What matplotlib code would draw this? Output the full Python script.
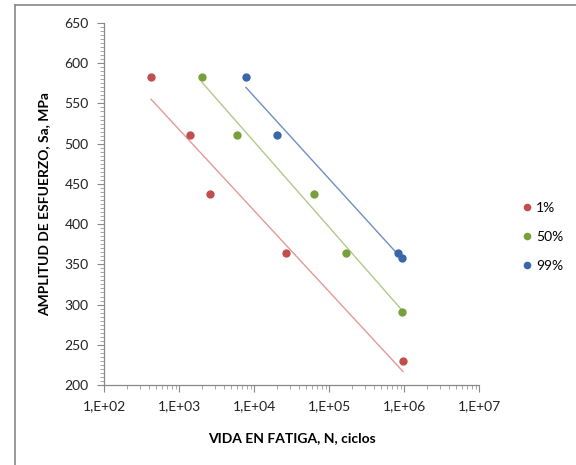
import numpy as np
import matplotlib
matplotlib.use("Agg")
import matplotlib.pyplot as plt
from matplotlib.ticker import LogLocator, MultipleLocator, FuncFormatter
from matplotlib.lines import Line2D

plt.rcParams['font.family'] = ['Lato', 'DejaVu Sans']

series_names = ["1%", "50%", "99%"]
n_1 = [424, 1400, 2590, 26700, 970000]
s_1 = [583, 511, 437, 364, 230]
n_50 = [2030, 5930, 63000, 168000, 940000]
s_50 = [583, 511, 437, 364, 291]
n_99 = [7800, 20300, 832000, 945000]
s_99 = [583, 511, 364, 358]

marker_colors = ["#C0504D", "#77A03B", "#3A67A8"]
line_colors = ["#E39A98", "#B3C98A", "#6F8FC4"]

fig = plt.figure(figsize=(5.76, 4.65), dpi=100)
ax = fig.add_axes([104/576, 1-385/465, (479-104)/576, (385-23)/465])

data = [(n_1, s_1), (n_50, s_50), (n_99, s_99)]
handles = []
for (n, s), mc, lc, name in zip(data, marker_colors, line_colors, series_names):
    n = np.array(n, float)
    s = np.array(s, float)
    k, b = np.polyfit(np.log10(n), s, 1)
    xs = np.array([n.min(), n.max()])
    ax.plot(xs, k*np.log10(xs)+b, color=lc, lw=1.0, zorder=2)
    ax.scatter(n, s, s=36, color=mc, zorder=3, linewidths=0)
    handles.append(Line2D([], [], ls='none', marker='o', markersize=5.5,
                          markerfacecolor=mc, markeredgewidth=0, label=name))

ax.set_xscale('log')
ax.set_xlim(1e2, 1e7)
ax.set_ylim(200, 650)
ax.yaxis.set_major_locator(MultipleLocator(50))
ax.yaxis.set_minor_locator(MultipleLocator(5))
ax.xaxis.set_major_locator(LogLocator(base=10, numticks=10))
ax.xaxis.set_minor_locator(LogLocator(base=10, subs=np.arange(2, 10), numticks=20))

def fmt(v, pos):
    e = int(round(np.log10(v)))
    return "1,E+%02d" % e
ax.xaxis.set_major_formatter(FuncFormatter(fmt))
ax.xaxis.set_minor_formatter(FuncFormatter(lambda v, p: ""))

for sp in ['top', 'right']:
    ax.spines[sp].set_visible(False)
for sp in ['left', 'bottom']:
    ax.spines[sp].set_color('#888888')
    ax.spines[sp].set_linewidth(0.9)

ax.tick_params(which='major', direction='out', length=5, width=0.8, color='#888888',
               labelsize=10, labelcolor='#222222', pad=6)
ax.tick_params(which='minor', direction='out', length=3, width=0.6, color='#999999')

ax.set_xlabel("VIDA EN FATIGA, N, ciclos", fontsize=10, fontweight='bold', labelpad=14)
ax.set_ylabel("AMPLITUD DE ESFUERZO, Sa, MPa", fontsize=10, fontweight='bold', labelpad=10)

fig.legend(handles=handles, loc='center left', bbox_to_anchor=(506/576, 1-237/465),
           frameon=False, fontsize=10, handletextpad=0.05, labelspacing=1.2,
           handlelength=1.2)

# chart-area border (left and top edges)
fig.add_artist(Line2D([15/576, 15/576], [0, 1-5/465], transform=fig.transFigure,
                      color='#888888', lw=1.2))
fig.add_artist(Line2D([15/576, 1], [1-5/465, 1-5/465], transform=fig.transFigure,
                      color='#888888', lw=1.2))

fig.savefig("out.png", dpi=100)
